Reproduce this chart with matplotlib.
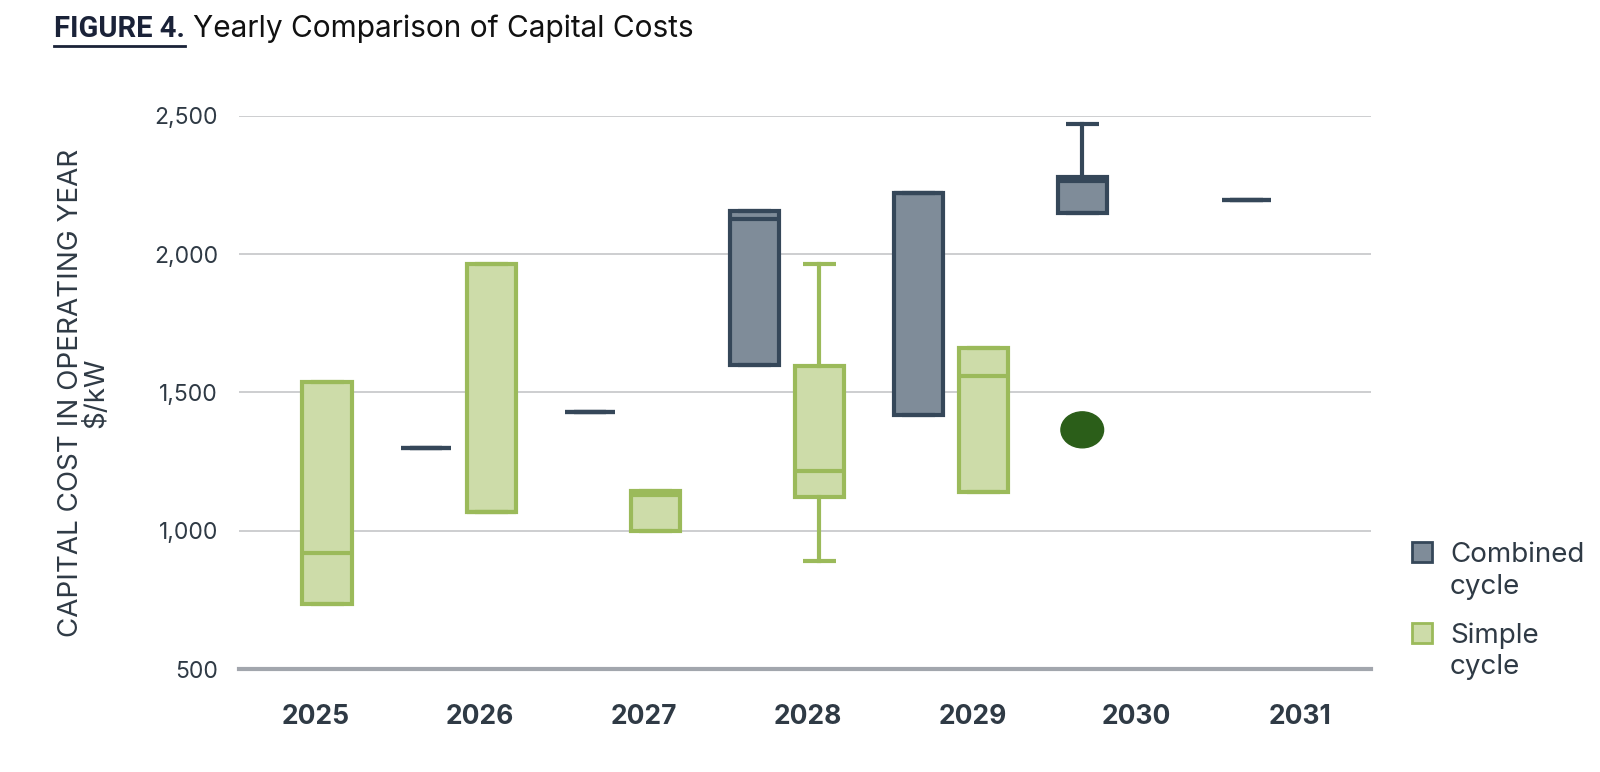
import matplotlib.pyplot as plt
from matplotlib.patches import Ellipse, Rectangle
from matplotlib.lines import Line2D

plt.rcParams['font.family'] = ['Inter', 'DejaVu Sans']

years = ['2025', '2026', '2027', '2028', '2029', '2030', '2031']

# combined cycle: min, q1, median, q3, max (None = no data)
cc_min = [None, 1300, 1428, 1598, 1420, 2150, 2195]
cc_q1 = [None, 1300, 1428, 1598, 1420, 2150, 2195]
cc_med = [None, 1300, 1428, 2127, 2220, 2265, 2195]
cc_q3 = [None, 1300, 1428, 2156, 2220, 2280, 2195]
cc_max = [None, 1300, 1428, 2156, 2220, 2470, 2195]

# simple cycle
sc_min = [735, 1068, 1000, 889, 1140, None, None]
sc_q1 = [735, 1068, 1000, 1122, 1140, None, None]
sc_med = [920, 1068, 1130, 1215, 1560, None, None]
sc_q3 = [1537, 1965, 1145, 1595, 1660, None, None]
sc_max = [1537, 1965, 1145, 1965, 1660, None, None]

# single simple-cycle point shown as a dot in 2030
dot_year = '2030'
dot_value = 1365

legend_labels = [['Combined', 'cycle'], ['Simple', 'cycle']]

cc_face, cc_edge = '#7f8c99', '#354759'
sc_face, sc_edge = '#cddca9', '#9bba5a'
dot_color = '#2b5e19'
text_color = '#2f3a45'

W, H = 1600, 772


def make_stats(lo, q1, med, q3, hi):
    stats, pos = [], []
    for i in range(len(years)):
        if med[i] is None:
            continue
        stats.append(dict(whislo=lo[i], q1=q1[i], med=med[i], q3=q3[i], whishi=hi[i], fliers=[]))
        pos.append(i)
    return stats, pos


fig = plt.figure(figsize=(W / 100, H / 100), dpi=100)
ax = fig.add_axes([239 / W, 1 - 669 / H, 1132 / W, (669 - 116) / H])

off_cc, off_sc, bw = -0.33, 0.067, 0.30

for (lo, q1, med, q3, hi), off, fc, ec in [
        ((cc_min, cc_q1, cc_med, cc_q3, cc_max), off_cc, cc_face, cc_edge),
        ((sc_min, sc_q1, sc_med, sc_q3, sc_max), off_sc, sc_face, sc_edge)]:
    stats, pos = make_stats(lo, q1, med, q3, hi)
    ax.bxp(stats, positions=[p + off for p in pos], widths=bw, capwidths=0.2,
           patch_artist=True, showfliers=False, manage_ticks=False,
           boxprops=dict(facecolor=fc, edgecolor=ec, lw=3, joinstyle='miter'),
           medianprops=dict(color=ec, lw=3, solid_capstyle='butt'),
           whiskerprops=dict(color=ec, lw=3),
           capprops=dict(color=ec, lw=3, solid_capstyle='butt'),
           zorder=3)

di = years.index(dot_year)
ax.add_patch(Ellipse((di + off_cc, dot_value), 0.26, 130, color=dot_color, zorder=4))

ax.set_xlim(-0.47, 6.43)
ax.set_ylim(500, 2500)
ax.set_yticks([500, 1000, 1500, 2000, 2500])
ax.set_yticklabels(['500', '1,000', '1,500', '2,000', '2,500'])
ax.set_xticks(range(len(years)))
ax.set_xticklabels(years, fontweight='bold', fontsize=19, color=text_color)
ax.tick_params(axis='y', length=0, pad=15, labelsize=16.5, labelcolor=text_color)
ax.tick_params(axis='x', length=0, pad=25)
ax.grid(axis='y', color='#c9cacd', lw=1.3, zorder=0)
for s in ['top', 'right', 'left']:
    ax.spines[s].set_visible(False)
ax.spines['bottom'].set_color('#a2a6ad')
ax.spines['bottom'].set_linewidth(3)
ax.set_ylabel('CAPITAL COST IN OPERATING YEAR\n$/kW', fontsize=20, color=text_color,
              linespacing=0.95, va='center')
ax.yaxis.set_label_coords(-0.137, 0.5)

# legend drawn by hand so the square sits level with the first line
legend_items = [(cc_face, cc_edge), (sc_face, sc_edge)]
for k, ((fc, ec), lines) in enumerate(zip(legend_items, legend_labels)):
    top = 542 + k * 81
    fig.add_artist(Rectangle((1412 / W, 1 - (top + 20) / H), 20 / W, 20 / H,
                             facecolor=fc, edgecolor=ec, lw=2, transform=fig.transFigure))
    for j, line in enumerate(lines):
        fig.text(1450 / W, 1 - (top + 20 + j * 31.5) / H, line, fontsize=20,
                 color=text_color, va='baseline')

# title with underlined figure number
t1 = fig.text(54 / W, 1 - 29 / H, 'FIGURE 4.', fontsize=21, fontweight='bold',
              family=['Roboto', 'DejaVu Sans'], color='#1a2238', va='center')
fig.canvas.draw()
bb = t1.get_window_extent()
x0, x1 = bb.x0 / W, bb.x1 / W
fig.add_artist(Line2D([x0, x1], [1 - 46 / H] * 2, color='#1a2238', lw=2))
fig.text(x1 + 8 / W, 1 - 29 / H, 'Yearly Comparison of Capital Costs', fontsize=21.5,
         color='#111111', va='center')

fig.savefig('out.png', dpi=100)
